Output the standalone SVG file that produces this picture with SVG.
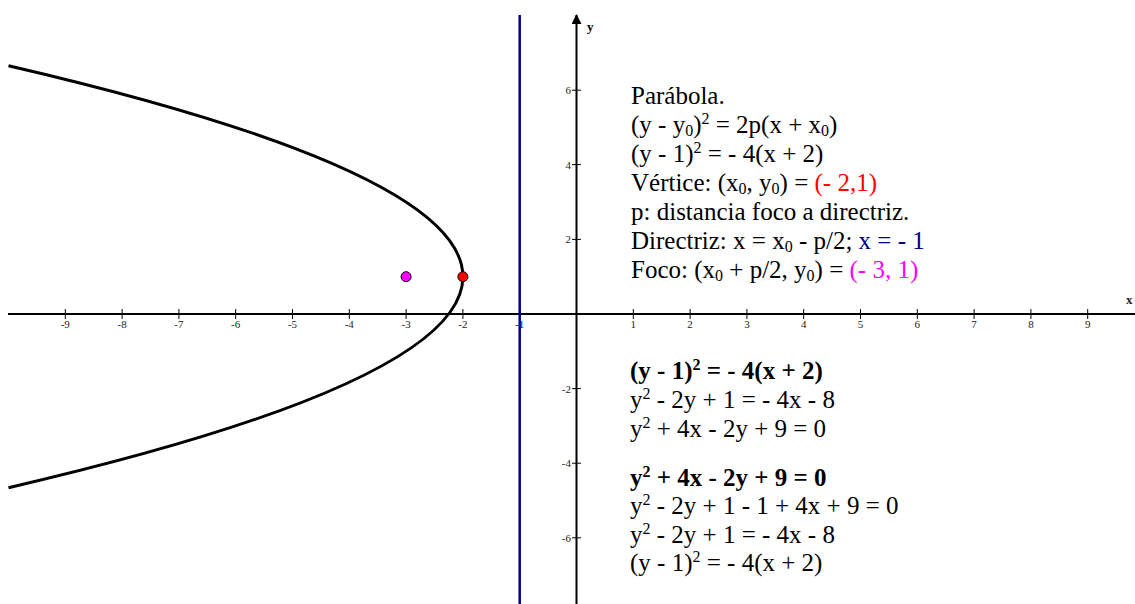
<svg xmlns="http://www.w3.org/2000/svg" width="1135" height="604" viewBox="0 0 1135 604">
<style>
.ax{stroke:#000;stroke-width:2;fill:none}
.tk{stroke:#000;stroke-width:1}
.tl{font-family:"Liberation Serif","Times New Roman",serif;font-size:11px;fill:#222}
.tx{font-family:"Liberation Serif","Times New Roman",serif;font-size:25px;fill:#000}
.b{font-weight:bold}
.s{font-size:16px}
</style>
<defs>
<marker id="arr" viewBox="0 0 10 10" refX="9" refY="5" markerWidth="10" markerHeight="10" markerUnits="userSpaceOnUse" orient="auto">
<path d="M0,0 L10,5 L0,10 z" fill="#000"/>
</marker>
</defs>
<rect width="1135" height="604" fill="#fff"/>
<g id="axes">
<line class="ax" x1="8" y1="314" x2="1135" y2="314"/>
<line class="ax" x1="576.5" y1="604" x2="576.5" y2="15" marker-end="url(#arr)"/>
<text x="1126" y="304" class="tl" style="font-size:13px;font-weight:bold">x</text>
<text x="587" y="31" class="tl" style="font-size:13px;font-weight:bold;fill:#000">y</text>
</g>
<g id="xticks">
<path class="tk" d="M65.3,309V319M122.1,309V319M178.9,309V319M235.7,309V319M292.5,309V319M349.3,309V319M406.1,309V319M462.9,309V319M519.7,309V319M633.3,309V319M690.1,309V319M746.9,309V319M803.7,309V319M860.5,309V319M917.3,309V319M974.1,309V319M1030.9,309V319M1087.7,309V319"/>
<g class="tl" text-anchor="middle">
<text x="65.3" y="328">-9</text><text x="122.1" y="328">-8</text><text x="178.9" y="328">-7</text><text x="235.7" y="328">-6</text><text x="292.5" y="328">-5</text><text x="349.3" y="328">-4</text><text x="406.1" y="328">-3</text><text x="462.9" y="328">-2</text><text x="519.7" y="328">-1</text>
<text x="633.3" y="328">1</text><text x="690.1" y="328">2</text><text x="746.9" y="328">3</text><text x="803.7" y="328">4</text><text x="860.5" y="328">5</text><text x="917.3" y="328">6</text><text x="974.1" y="328">7</text><text x="1030.9" y="328">8</text><text x="1087.7" y="328">9</text>
</g>
</g>
<g id="yticks">
<path class="tk" d="M572,90.2H581M572,164.6H581M572,239.4H581M572,388.6H581M572,463.2H581M572,537.8H581"/>
<g class="tl" text-anchor="end">
<text x="571" y="94">6</text><text x="571" y="168.5">4</text><text x="571" y="243">2</text><text x="571" y="392.5">-2</text><text x="571" y="467">-4</text><text x="571" y="541.5">-6</text>
</g>
</g>
<g id="directrix">
<line x1="519.7" y1="15" x2="519.7" y2="604" stroke="#000088" stroke-width="2.5"/>
</g>
<g id="parabola">
<path d="M8.5,65.7 Q917.3,276.7 8.5,487.7" fill="none" stroke="#000" stroke-width="3"/>
</g>
<g id="focus">
<circle cx="406.1" cy="276.7" r="5" fill="#ff00ff" stroke="#000" stroke-width="1"/>
</g>
<g id="vertex">
<circle cx="462.9" cy="276.7" r="5" fill="#ff0000" stroke="#000" stroke-width="1"/>
</g>
<g id="info" class="tx">
<text x="631" y="104">Parábola.</text>
<text x="631" y="133">(y - y<tspan class="s" dy="3">0</tspan><tspan dy="-3">)</tspan><tspan class="s" dy="-9">2</tspan><tspan dy="9"> = 2p(x + x</tspan><tspan class="s" dy="3">0</tspan><tspan dy="-3">)</tspan></text>
<text x="631" y="162">(y - 1)<tspan class="s" dy="-9">2</tspan><tspan dy="9"> = - 4(x + 2)</tspan></text>
<text x="631" y="191">Vértice: (x<tspan class="s" dy="3">0</tspan><tspan dy="-3">, y</tspan><tspan class="s" dy="3">0</tspan><tspan dy="-3">) = </tspan><tspan fill="#ff0000">(- 2,1)</tspan></text>
<text x="631" y="220">p: distancia foco a directriz.</text>
<text x="631" y="249">Directriz: x = x<tspan class="s" dy="3">0</tspan><tspan dy="-3"> - p/2; </tspan><tspan fill="#000088">x = - 1</tspan></text>
<text x="631" y="278">Foco: (x<tspan class="s" dy="3">0</tspan><tspan dy="-3"> + p/2, y</tspan><tspan class="s" dy="3">0</tspan><tspan dy="-3">) = </tspan><tspan fill="#ff00ff">(- 3, 1)</tspan></text>
</g>
<g id="expansion" class="tx">
<text x="630" y="379" class="b">(y - 1)<tspan class="s" dy="-9">2</tspan><tspan dy="9"> = - 4(x + 2)</tspan></text>
<text x="630" y="408">y<tspan class="s" dy="-9">2</tspan><tspan dy="9"> - 2y + 1 = - 4x - 8</tspan></text>
<text x="630" y="437">y<tspan class="s" dy="-9">2</tspan><tspan dy="9"> + 4x - 2y + 9 = 0</tspan></text>
<text x="630" y="486" class="b">y<tspan class="s" dy="-9">2</tspan><tspan dy="9"> + 4x - 2y + 9 = 0</tspan></text>
<text x="630" y="514">y<tspan class="s" dy="-9">2</tspan><tspan dy="9"> - 2y + 1 - 1 + 4x + 9 = 0</tspan></text>
<text x="630" y="543">y<tspan class="s" dy="-9">2</tspan><tspan dy="9"> - 2y + 1 = - 4x - 8</tspan></text>
<text x="630" y="571">(y - 1)<tspan class="s" dy="-9">2</tspan><tspan dy="9"> = - 4(x + 2)</tspan></text>
</g>
</svg>
